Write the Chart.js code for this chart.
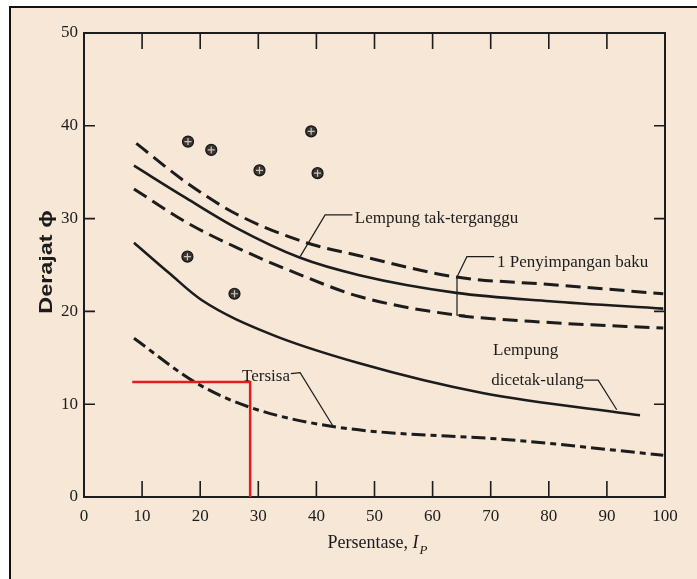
<!DOCTYPE html>
<html>
<head>
<meta charset="utf-8">
<style>
  html, body { margin: 0; padding: 0; background: #ffffff; }
  #wrap { width: 697px; height: 579px; }
</style>
<script src="https://cdn.jsdelivr.net/npm/chart.js@4.4.1/dist/chart.umd.min.js"></script>
</head>
<body>
<div id="wrap"><canvas id="chart" width="697" height="579"></canvas></div>
<script>
// curves (plasticity index %, friction angle degrees)
const upperX = [9.0, 17.6, 26.2, 38.3, 47.4, 64.1, 80.2, 99.7];
const upperY = [38.1, 33.9, 30.5, 27.4, 26.0, 23.7, 22.9, 21.9];
const undisturbedX = [8.6, 17.6, 26.2, 37.1, 47.4, 64.1, 80.2, 99.7];
const undisturbedY = [35.7, 32.2, 29.0, 25.8, 23.9, 22.0, 21.1, 20.3];
const lowerX = [8.6, 17.6, 26.2, 36.6, 47.4, 64.1, 80.2, 99.7];
const lowerY = [33.2, 29.6, 26.9, 24.1, 21.6, 19.6, 18.8, 18.2];
const remoldedX = [8.6, 14.7, 20.3, 31.9, 47.4, 68.6, 95.7];
const remoldedY = [27.4, 24.1, 21.2, 17.6, 14.4, 11.2, 8.8];
const residualX = [8.6, 19.3, 28.4, 42.8, 74.5, 99.7];
const residualY = [17.1, 12.3, 9.7, 7.6, 6.1, 4.5];

// test points (circle with cross)
const testX = [17.9, 21.9, 30.2, 39.1, 40.2, 17.8, 25.9];
const testY = [38.3, 37.4, 35.2, 39.4, 34.9, 25.9, 21.9];

// red reading guide
const guideX = [8.3, 28.6, 28.6];
const guideY = [12.4, 12.4, 0];

const xMin = 0, xMax = 100, xStep = 10;
const yMin = 0, yMax = 50, yStep = 10;

const ink = '#1c1c1c';

function pts(xs, ys) {
  return xs.map((x, i) => ({ x: x, y: ys[i] }));
}

// labels with their leader lines, in data units
const notes = [
  { text: 'Lempung tak-terganggu', at: [46.6, 29.5], leader: [[37.2, 25.9], [41.5, 30.4], [46.2, 30.4]] },
  { text: '1 Penyimpangan baku', at: [71.1, 24.8], leader: [[70.6, 25.9], [65.9, 25.9], [64.2, 23.7], [64.2, 19.6], [65.6, 19.6]] },
  { text: 'Lempung', at: [70.4, 15.3] },
  { text: 'dicetak-ulang', at: [70.1, 12.1], leader: [[86.0, 12.6], [88.5, 12.6], [91.7, 9.4]] },
  { text: 'Tersisa', at: [27.2, 12.5], leader: [[35.6, 13.3], [37.2, 13.4], [42.9, 7.6]] }
];

const paper = {
  id: 'paper',
  beforeDraw(chart) {
    const { ctx, width, height } = chart;
    ctx.save();
    ctx.fillStyle = '#ffffff';
    ctx.fillRect(0, 0, width, height);
    ctx.fillStyle = '#f6e7d6';
    ctx.fillRect(9, 6, width - 9, height - 6);
    ctx.strokeStyle = '#111';
    ctx.lineWidth = 2;
    ctx.beginPath();
    ctx.moveTo(10, height);
    ctx.lineTo(10, 7);
    ctx.lineTo(width, 7);
    ctx.stroke();
    ctx.restore();
  },
  beforeDatasetsDraw(chart) {
    const { ctx, chartArea } = chart;
    const { left, right, top, bottom } = chartArea;
    const sx = chart.scales.x, sy = chart.scales.y;
    ctx.save();
    ctx.strokeStyle = ink;
    ctx.lineWidth = 2;
    ctx.strokeRect(left, top, right - left, bottom - top);
    ctx.lineWidth = 1.6;
    ctx.beginPath();
    sx.ticks.forEach(t => {
      if (t.value <= xMin || t.value >= xMax) return;
      const px = sx.getPixelForValue(t.value);
      ctx.moveTo(px, bottom); ctx.lineTo(px, bottom - 16);
      ctx.moveTo(px, top); ctx.lineTo(px, top + 16);
    });
    sy.ticks.forEach(t => {
      if (t.value <= yMin || t.value >= yMax) return;
      const py = sy.getPixelForValue(t.value);
      ctx.moveTo(left, py); ctx.lineTo(left + 11, py);
      ctx.moveTo(right, py); ctx.lineTo(right - 11, py);
    });
    ctx.stroke();

    // y axis title, tall condensed like the scan
    ctx.fillStyle = ink;
    ctx.translate(47, 262);
    ctx.rotate(-Math.PI / 2);
    ctx.scale(1.3, 1);
    ctx.font = 'bold 18px "Liberation Sans"';
    ctx.textAlign = 'center';
    ctx.textBaseline = 'middle';
    ctx.fillText('Derajat ϕ', 0, 0);
    ctx.restore();
  },
  afterDatasetsDraw(chart) {
    const { ctx } = chart;
    const sx = chart.scales.x, sy = chart.scales.y;
    ctx.save();
    ctx.fillStyle = ink;
    ctx.strokeStyle = ink;
    ctx.lineWidth = 1.2;
    ctx.font = '17px "Liberation Serif"';
    ctx.textBaseline = 'alphabetic';
    notes.forEach(n => {
      ctx.fillText(n.text, sx.getPixelForValue(n.at[0]), sy.getPixelForValue(n.at[1]));
      if (!n.leader) return;
      ctx.beginPath();
      n.leader.forEach((p, i) => {
        const px = sx.getPixelForValue(p[0]), py = sy.getPixelForValue(p[1]);
        if (i === 0) ctx.moveTo(px, py); else ctx.lineTo(px, py);
      });
      ctx.stroke();
    });

    // x axis title with italic I and subscript P
    const main = 'Persentase, ';
    ctx.font = '18px "Liberation Serif"';
    const w1 = ctx.measureText(main).width;
    ctx.font = 'italic 18px "Liberation Serif"';
    const w2 = ctx.measureText('I').width;
    ctx.font = 'italic 13px "Liberation Serif"';
    const w3 = ctx.measureText('P').width;
    let x0 = 377 - (w1 + w2 + w3) / 2;
    const base = 548;
    ctx.font = '18px "Liberation Serif"';
    ctx.fillText(main, x0, base);
    ctx.font = 'italic 18px "Liberation Serif"';
    ctx.fillText('I', x0 + w1, base);
    ctx.font = 'italic 13px "Liberation Serif"';
    ctx.fillText('P', x0 + w1 + w2 + 1, base + 6);
    ctx.restore();
  }
};

const curve = (xs, ys, dash, width) => ({
  type: 'line',
  data: pts(xs, ys),
  borderColor: ink,
  borderWidth: width,
  borderDash: dash,
  pointRadius: 0,
  fill: false,
  tension: 0.4,
  cubicInterpolationMode: 'monotone',
  order: 3
});

new Chart(document.getElementById('chart'), {
  type: 'scatter',
  data: {
    datasets: [
      curve(upperX, upperY, [15, 7], 3),
      curve(undisturbedX, undisturbedY, [], 2.6),
      curve(lowerX, lowerY, [15, 7], 3),
      curve(remoldedX, remoldedY, [], 2.6),
      curve(residualX, residualY, [14, 5, 6, 5], 3),
      {
        type: 'scatter',
        data: pts(testX, testY),
        pointStyle: 'circle',
        pointRadius: 5.5,
        backgroundColor: '#3a3532',
        borderColor: '#151515',
        borderWidth: 1.2,
        order: 2
      },
      {
        type: 'scatter',
        data: pts(testX, testY),
        pointStyle: 'cross',
        pointRadius: 3.5,
        borderColor: '#cfc5b8',
        borderWidth: 1.2,
        order: 1
      },
      {
        type: 'line',
        data: pts(guideX, guideY),
        borderColor: '#e11d1d',
        borderWidth: 2.5,
        pointRadius: 0,
        tension: 0,
        fill: false,
        order: 0
      }
    ]
  },
  options: {
    responsive: false,
    animation: false,
    layout: { padding: { left: 0, right: 32, top: 33, bottom: 0 } },
    plugins: { legend: { display: false }, tooltip: { enabled: false } },
    scales: {
      x: {
        type: 'linear',
        min: xMin, max: xMax,
        grid: { display: false, drawTicks: false },
        border: { display: false },
        ticks: {
          stepSize: xStep,
          padding: 9,
          color: ink,
          maxRotation: 0,
          font: { family: 'Liberation Serif', size: 17 }
        },
        afterFit(scale) { scale.height = 82; }
      },
      y: {
        type: 'linear',
        min: yMin, max: yMax,
        grid: { display: false, drawTicks: false },
        border: { display: false },
        ticks: {
          stepSize: yStep,
          padding: 6,
          color: ink,
          font: { family: 'Liberation Serif', size: 17 }
        },
        afterFit(scale) { scale.width = 84; }
      }
    }
  },
  plugins: [paper]
});
</script>
</body>
</html>
